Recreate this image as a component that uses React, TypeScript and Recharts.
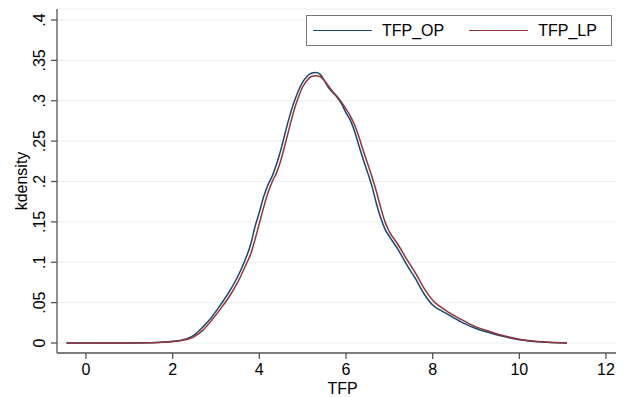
import React from 'react';
import { LineChart, Line, XAxis, YAxis, CartesianGrid, Legend } from 'recharts';

// kernel density estimates
const opX = [-0.45, 0, 0.5, 1, 1.5, 1.8, 2, 2.2, 2.4, 2.5, 2.7, 2.9, 3.1, 3.3, 3.5, 3.65, 3.8, 3.9, 4, 4.1, 4.2, 4.3, 4.4, 4.5, 4.6, 4.7, 4.8, 4.9, 5, 5.1, 5.2, 5.3, 5.4, 5.5, 5.6, 5.7, 5.8, 5.9, 6, 6.1, 6.2, 6.3, 6.4, 6.5, 6.6, 6.7, 6.8, 6.9, 7, 7.2, 7.4, 7.6, 7.8, 8, 8.2, 8.4, 8.7, 9, 9.3, 9.6, 10, 10.5, 11.1];
const opY = [0, 0, 0, 0.0001, 0.0004, 0.0012, 0.0022, 0.0035, 0.007, 0.01, 0.02, 0.032, 0.047, 0.063, 0.082, 0.1, 0.122, 0.144, 0.162, 0.181, 0.196, 0.207, 0.222, 0.24, 0.261, 0.281, 0.298, 0.312, 0.323, 0.33, 0.334, 0.335, 0.333, 0.325, 0.316, 0.31, 0.304, 0.296, 0.285, 0.276, 0.262, 0.244, 0.227, 0.211, 0.194, 0.173, 0.155, 0.141, 0.132, 0.116, 0.097, 0.08, 0.061, 0.047, 0.04, 0.034, 0.025, 0.018, 0.013, 0.0085, 0.004, 0.0012, 0];

const lpX = [-0.45, 0, 0.5, 1, 1.5, 1.8, 2, 2.2, 2.4, 2.5, 2.7, 2.9, 3.1, 3.3, 3.5, 3.7, 3.8, 3.9, 4, 4.1, 4.2, 4.3, 4.4, 4.5, 4.6, 4.7, 4.8, 4.9, 5, 5.1, 5.2, 5.3, 5.4, 5.5, 5.6, 5.7, 5.8, 5.9, 6, 6.1, 6.2, 6.3, 6.4, 6.5, 6.6, 6.7, 6.8, 6.9, 7, 7.2, 7.4, 7.6, 7.8, 8, 8.2, 8.4, 8.7, 9, 9.3, 9.6, 10, 10.5, 11.1];
const lpY = [0, 0, 0, 0.0001, 0.0003, 0.0009, 0.0017, 0.003, 0.0055, 0.008, 0.016, 0.028, 0.042, 0.057, 0.075, 0.098, 0.11, 0.128, 0.148, 0.168, 0.186, 0.2, 0.211, 0.227, 0.247, 0.268, 0.288, 0.304, 0.317, 0.325, 0.33, 0.331, 0.33, 0.325, 0.318, 0.311, 0.305, 0.298, 0.29, 0.281, 0.27, 0.255, 0.238, 0.222, 0.206, 0.188, 0.168, 0.15, 0.138, 0.122, 0.104, 0.087, 0.068, 0.053, 0.044, 0.037, 0.028, 0.02, 0.0145, 0.0095, 0.0047, 0.0015, 0];

const seriesNames = ['TFP_OP', 'TFP_LP'];
const xTicks = [0, 2, 4, 6, 8, 10, 12];
const yTicks = [0, 0.05, 0.1, 0.15, 0.2, 0.25, 0.3, 0.35, 0.4];

const opData = opX.map((x, i) => ({ x, y: opY[i] }));
const lpData = lpX.map((x, i) => ({ x, y: lpY[i] }));

const FONT = '"Liberation Sans", Arial, sans-serif';
const AXIS = '#555555';

const fmtY = (v: number) => (v === 0 ? '0' : String(v).replace(/^0/, ''));

const YTick = (props: any) => {
  const { x, y, payload } = props;
  return (
    <text transform={`translate(${x},${y}) rotate(-90)`} textAnchor="middle" fontSize={16} fontFamily={FONT} fill="#000">
      {fmtY(payload.value)}
    </text>
  );
};

const renderLegend = (props: any) => {
  // keep the series order instead of the alphabetical one
  const items = seriesNames
    .map((n) => (props.payload || []).find((p: any) => p.value === n))
    .filter(Boolean);
  return (
    <div style={{ boxSizing: 'border-box', width: 306, height: 31, border: '1.5px solid #777', display: 'flex', alignItems: 'center', paddingLeft: 6, fontFamily: FONT, fontSize: 16, color: '#000', background: '#fff' }}>
      {items.map((p: any, i: number) => (
        <div key={p.value} style={{ display: 'flex', alignItems: 'center', marginLeft: i === 0 ? 0 : 25 }}>
          <span style={{ display: 'inline-block', width: 59, height: 1.5, background: p.color }} />
          <span style={{ marginLeft: 10 }}>{p.value}</span>
        </div>
      ))}
    </div>
  );
};

export default function App() {
  return (
    <div style={{ position: 'absolute', left: 0, top: 0, width: 627, height: 397, background: '#fff' }}>
      <LineChart width={627} height={397} margin={{ top: 9, right: 11, left: 0, bottom: 0 }}>
        <CartesianGrid vertical={false} stroke="#e9eff1" strokeWidth={1} />
        <XAxis
          type="number"
          dataKey="x"
          domain={[-0.669, 12.231]}
          ticks={xTicks}
          allowDataOverflow
          height={44}
          stroke={AXIS}
          strokeWidth={1.3}
          tickSize={6}
          tickMargin={5}
          tick={{ fontSize: 16, fontFamily: FONT, fill: '#000' }}
          label={{ value: 'TFP', position: 'insideBottom', offset: 3, dx: 6, style: { fontSize: 16, fontFamily: FONT, fill: '#000' } }}
        />
        <YAxis
          type="number"
          dataKey="y"
          domain={[-0.01238, 0.41362]}
          ticks={yTicks}
          allowDataOverflow
          width={57}
          stroke={AXIS}
          strokeWidth={1.3}
          tickSize={6}
          tickMargin={6}
          tick={<YTick />}
          label={{ value: 'kdensity', angle: -90, position: 'insideLeft', offset: 21, style: { textAnchor: 'middle', fontSize: 16, fontFamily: FONT, fill: '#000' } }}
        />
        <Legend
          layout="horizontal"
          verticalAlign="middle"
          align="center"
          content={renderLegend}
          wrapperStyle={{ left: 306, top: 15, width: 306, height: 31 }}
        />
        <Line data={opData} dataKey="y" name="TFP_OP" type="monotone" stroke="#1a476f" strokeWidth={1.5} dot={false} isAnimationActive={false} />
        <Line data={lpData} dataKey="y" name="TFP_LP" type="monotone" stroke="#90353b" strokeWidth={1.5} dot={false} isAnimationActive={false} />
      </LineChart>
    </div>
  );
}
